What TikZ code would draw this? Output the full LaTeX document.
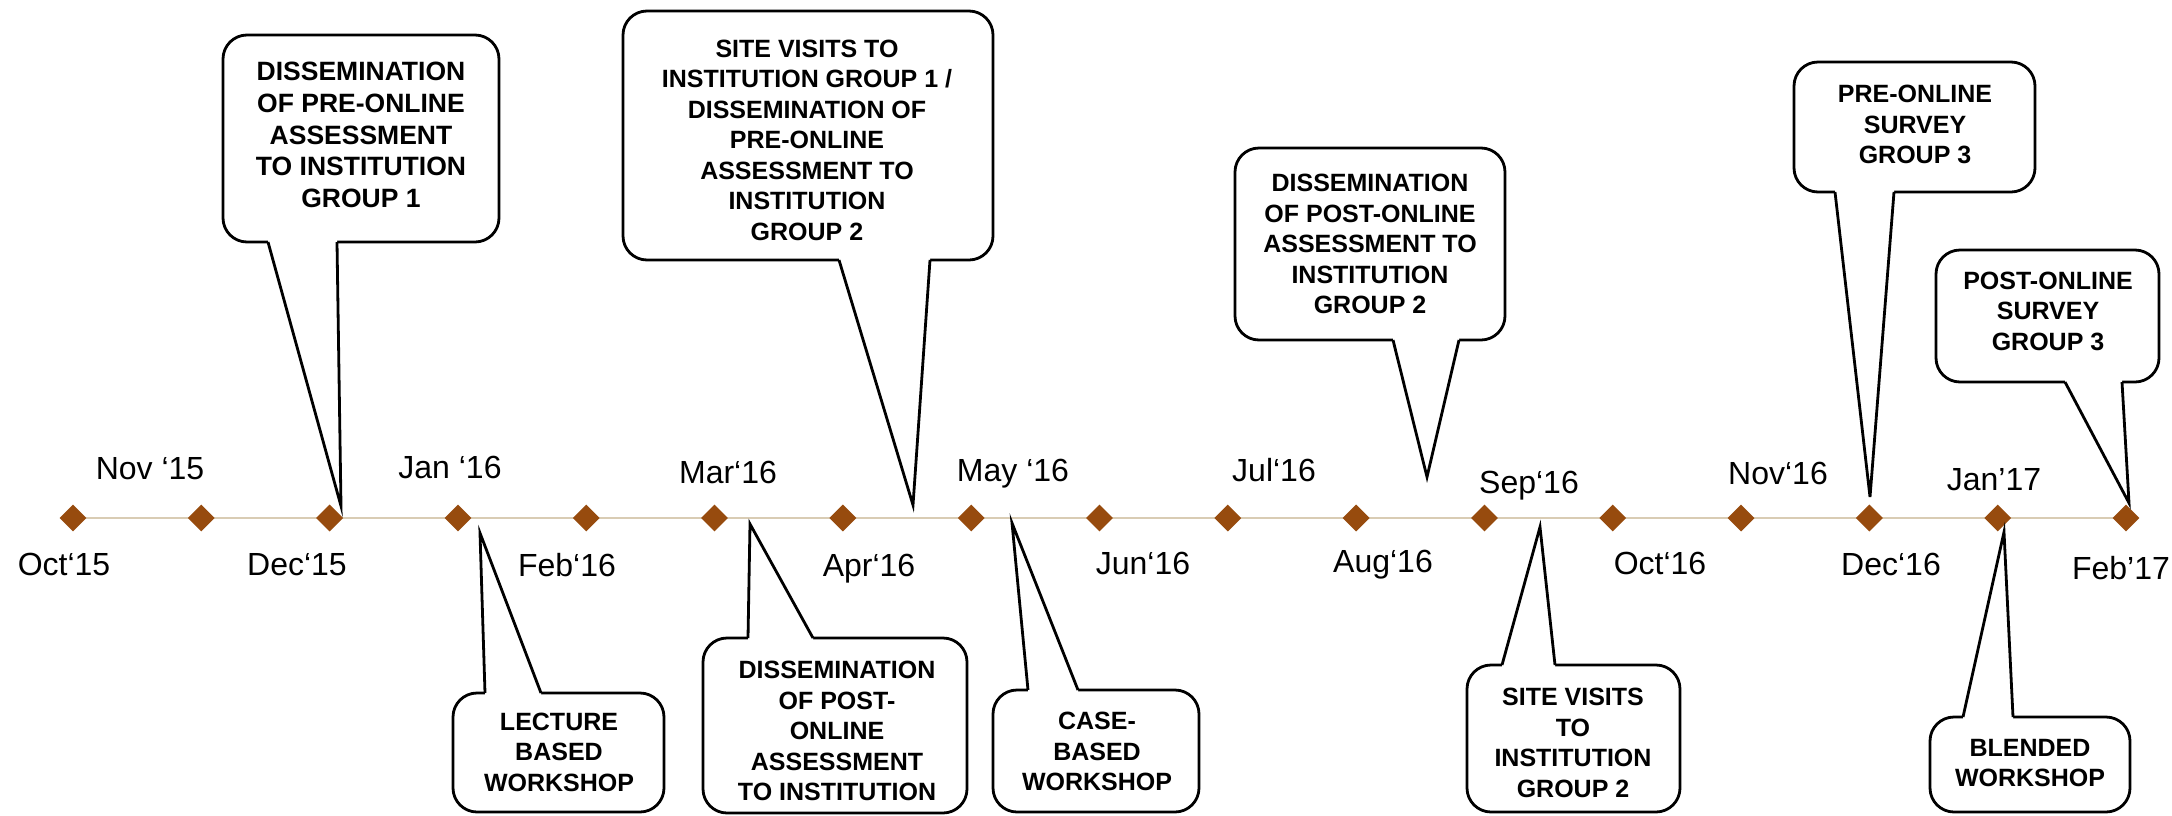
\documentclass[tikz,border=0pt]{standalone}
\usepackage{fontspec}
\setmainfont{Liberation Sans}
\usetikzlibrary{shapes.geometric}
\definecolor{tlbrown}{RGB}{151,75,14}
\definecolor{tlline}{RGB}{217,204,180}
\tikzset{
  callbox/.style={draw=black, line width=2.8pt, fill=white, rounded corners=24pt},
  calledge/.style={draw=black, line width=2.8pt, line join=miter},
  calltext/.style={align=center, font=\fontsize{25}{30.5}\selectfont\bfseries, inner sep=0pt},
  monthlbl/.style={anchor=base, font=\fontsize{32}{38}\selectfont, inner sep=0pt},
  gem/.style={diamond, fill=tlbrown, draw=none, minimum width=27pt, minimum height=27pt, inner sep=0pt},
  tline/.style={draw=tlline, line width=2.5pt},
}
% callout with box above the line, tail pointing down
\newcommand{\upcall}[8]{%
  \draw[callbox] (#1,#2) rectangle (#3,#4);
  \fill[white] (#5,#4-5) -- (#5,#4) -- (#7,#8) -- (#6,#4) -- (#6,#4-5) -- cycle;
  \draw[calledge] (#5,#4) -- (#7,#8) -- (#6,#4);
}
% callout with box below the line, tail pointing up
\newcommand{\downcall}[8]{%
  \draw[callbox] (#1,#2) rectangle (#3,#4);
  \fill[white] (#5,#2+5) -- (#5,#2) -- (#7,#8) -- (#6,#2) -- (#6,#2+5) -- cycle;
  \draw[calledge] (#5,#2) -- (#7,#8) -- (#6,#2);
}
\begin{document}
\begin{tikzpicture}[x=1pt, y=-1pt]
\clip (0,0) rectangle (2172,815);
\fill[white] (0,0) rectangle (2172,815);

% timeline
\coordinate (t0) at (73,518);
\coordinate (t16) at (2126,518);
\draw[tline] (t0) -- (t16);
\foreach \i in {0,...,16} {
  \node[gem] (d\i) at ({73+128.3125*\i},518) {};
}

% month labels above
\node[monthlbl] (m1)  at (150,479.5)  {Nov ‘15};
\node[monthlbl] (m3)  at (450,478.5)  {Jan ‘16};
\node[monthlbl] (m5)  at (728,483.5)  {Mar‘16};
\node[monthlbl] (m7)  at (1013,481.5) {May ‘16};
\node[monthlbl] (m9)  at (1274,481.5) {Jul‘16};
\node[monthlbl] (m11) at (1529,493.5) {Sep‘16};
\node[monthlbl] (m13) at (1778,484.5) {Nov‘16};
\node[monthlbl] (m15) at (1994,490.5) {Jan’17};
% month labels below
\node[monthlbl] (m0)  at (64,575.5)   {Oct‘15};
\node[monthlbl] (m2)  at (297,575.5)  {Dec‘15};
\node[monthlbl] (m4)  at (567,576.5)  {Feb‘16};
\node[monthlbl] (m6)  at (869,576.5)  {Apr‘16};
\node[monthlbl] (m8)  at (1143,574.5) {Jun‘16};
\node[monthlbl] (m10) at (1383,572.5) {Aug‘16};
\node[monthlbl] (m12) at (1660,574.5) {Oct‘16};
\node[monthlbl] (m14) at (1891,575.5) {Dec‘16};
\node[monthlbl] (m16) at (2121,579.5) {Feb’17};

% callouts above
\upcall{223}{35}{499}{242}{268}{337}{341}{506}
\node[calltext, font=\fontsize{26.5}{31.7}\selectfont\bfseries] (c1) at (361,135)
  {DISSEMINATION\\OF PRE-ONLINE\\ASSESSMENT\\TO INSTITUTION\\GROUP 1};

\upcall{623}{11}{993}{260}{839}{930}{913}{505}
\node[calltext] (c2) at (807,140)
  {SITE VISITS TO\\INSTITUTION GROUP 1 /\\DISSEMINATION OF\\PRE-ONLINE\\ASSESSMENT TO\\INSTITUTION\\GROUP 2};

\upcall{1235}{148}{1505}{340}{1393}{1459}{1427}{477}
\node[calltext] (c3) at (1370,244)
  {DISSEMINATION\\OF POST-ONLINE\\ASSESSMENT TO\\INSTITUTION\\GROUP 2};

\upcall{1794}{62}{2035}{192}{1835}{1894}{1870}{497}
\node[calltext] (c4) at (1915,124.5)
  {PRE-ONLINE\\SURVEY\\GROUP 3};

\upcall{1936}{250}{2159}{382}{2065}{2122}{2129}{503}
\node[calltext] (c5) at (2048,311)
  {POST-ONLINE\\SURVEY\\GROUP 3};

% callouts below
\downcall{453}{693}{664}{812}{485}{541}{480}{533}
\node[calltext] (c6) at (559,752)
  {LECTURE\\BASED\\WORKSHOP};

\downcall{703}{638}{967}{813}{748}{813}{750}{524}
\node[calltext] (c7) at (837,731)
  {DISSEMINATION\\OF POST-\\ONLINE\\ASSESSMENT\\TO INSTITUTION};

\downcall{993}{690}{1199}{812}{1028}{1078}{1012}{523}
\node[calltext] (c8) at (1097,751.5)
  {CASE-\\BASED\\WORKSHOP};

\downcall{1467}{665}{1680}{812}{1502}{1555}{1540}{527}
\node[calltext] (c9) at (1573,743)
  {SITE VISITS\\TO\\INSTITUTION\\GROUP 2};

\downcall{1930}{717}{2130}{812}{1963}{2013}{2004}{532}
\node[calltext] (c10) at (2030,763)
  {BLENDED\\WORKSHOP};
\end{tikzpicture}
\end{document}
